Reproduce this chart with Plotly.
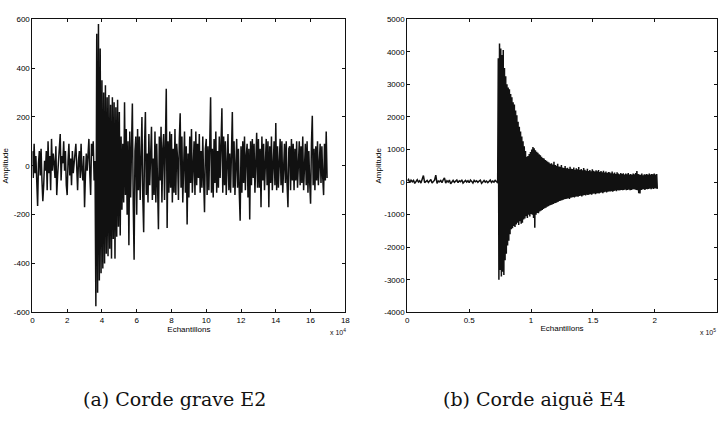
import numpy as np
import plotly.graph_objects as go

# ---------------- data ----------------
# (a) Corde grave E2 : amplitude read every 0.05 x 10^4 samples
grave_step = 0.05
grave_amp = [
    60, -50, 90, -30, 40, -120, -165, 10, 60, -40, 70, -60, -145, -80, 20, -20, 60, -100, 100, -30,
    40, -100, 110, -20, 50, 10, -50, 80, -120, -40, 30, 60, 130, -60, 40, 10, 100, -20, 60, -80,
    -120, 20, 90, -40, 30, -80, 60, -30, 0, 50, 90, -40, -100, 20, 60, -50, 90, -20, -60, 40,
    -170, -40, 50, -20, 60, 110, -30, -120, 90, 40, 100, -60, 20, -575, 540, -520, 580, -470, 480, -440,
    350, -420, 300, -400, 330, -360, 280, -370, 290, -340, 250, -380, 280, -300, 260, -380, 240, -290, 270, -250,
    220, -285, 120, -180, 90, -150, 260, -120, 150, -200, 100, -325, 140, -130, 80, 255, -160, -385, 60, 120,
    -200, 150, -100, 120, -140, 60, 200, -130, -272, 80, 220, -120, 50, -150, 130, -80, 110, 160, -140, 30,
    -120, 140, -150, 90, -80, -260, 120, -60, 160, -150, 70, 130, -140, 40, 315, -255, 100, -110, 140, -90,
    130, -150, 70, -110, 150, -120, 90, 30, -140, 110, 215, -90, 120, -150, 60, 140, -110, 80, -240, 50,
    -130, 120, -70, 150, -110, 50, 100, -120, 140, -80, 90, -50, 130, -110, 60, -90, 120, -60, -190, 70,
    110, -120, 80, -100, 150, 280, -110, 70, -130, 110, -70, 140, -110, 60, -90, 120, -50, 90, 235, -110,
    120, -80, 100, -120, 70, 130, -100, 50, -110, 150, 220, -90, 100, -120, 60, 110, -90, 70, -110, -225,
    80, -110, 100, -70, 120, -100, 40, 90, -130, 70, -220, 100, -80, 110, -50, 90, -110, 60, 135, -90,
    110, -90, 70, -170, 120, -60, 90, -100, 50, 110, -80, 100, -170, 80, -70, 120, -100, 60, 100, -80,
    175, -100, 80, -90, 60, 110, -80, 100, -110, 50, 90, -70, 100, -80, -170, 70, 80, -100, 110, -60,
    90, -100, 70, -60, 100, -90, 50, 100, -80, 80, -70, 120, -100, 40, 90, -80, 100, -110, 60, -70,
    -155, 90, 205, -80, 70, -100, 80, -60, 100, -80, 60, 90, -70, 80, -50, -120, 90, -60, 140, -50,
]

# (b) Corde aiguë E4 : x in units of 10^5 samples
aigue_pre_step = 0.01
aigue_pre = [
    40, 80, -20, 60, 10, 50, -40, 30, 70, 0, 40, -30, 60, 200, -20, 30, 50, -10, 40, 80,
    -30, 20, 60, 210, -40, 30, 10, 50, -20, 70, 130, -30, 40, 0, 60, -50, 20, 50, -10, 30,
    60, -20, 40, 10, 70, -30, 30, 50, 0, 40, -20, 60, 20, -30, 50, 10, 40, -10, 30, 60,
    -40, 20, 50, 0, 30, -20, 40, 60, -10, 30, 0, 50, 20, -30,
]
aigue_onset = 0.735
aigue_peak_step = 0.01
aigue_upper = [
    3800, 4250, 4100, 3900, 4050, 3500, 3250, 3000, 2900, 2850,
    2700, 2600, 2450, 2380, 2200, 2050, 1850, 1700, 1550, 1400,
    1250, 1100, 950, 780, 800, 860, 920, 1000, 1080, 1040,
    980, 930, 900, 850, 820, 780, 740, 720, 680, 650,
    620, 600, 560, 580, 540, 620, 520, 500, 560, 480,
    470, 520, 450, 430, 490, 420, 440, 400, 470, 410,
    400, 450, 380, 420, 390, 460, 370, 400, 360, 430,
    380, 350, 410, 340, 370, 330, 390, 350, 320, 360,
    330, 370, 310, 340, 300, 350, 290, 320, 280, 310,
    300, 270, 320, 260, 290, 250, 300, 260, 240, 280,
    250, 270, 230, 260, 240, 280, 230, 250, 220, 260,
    240, 280, 340, 250, 230, 220, 260, 210, 240, 230,
    250, 220, 260, 230, 250, 240, 260, 230, 250,
]
aigue_lower = [
    -3000, -2700, -2900, -2750, -2850, -2400, -2200, -1950, -1800, -1600,
    -1450, -1420, -1350, -1380, -1300, -1250, -1320, -1200, -1280, -1250,
    -1150, -1120, -1050, -1100, -1000, -1060, -980, -1000, -1100, -1400,
    -1000, -950, -960, -900, -880, -860, -830, -800, -790, -760,
    -740, -720, -700, -690, -670, -650, -640, -620, -600, -580,
    -570, -560, -540, -530, -520, -510, -500, -520, -480, -470,
    -460, -470, -450, -440, -450, -430, -420, -440, -410, -400,
    -410, -390, -400, -380, -370, -390, -360, -350, -370, -350,
    -340, -350, -330, -320, -340, -310, -300, -320, -300, -290,
    -290, -280, -300, -270, -260, -280, -250, -260, -250, -240,
    -250, -240, -230, -250, -240, -230, -250, -240, -230, -220,
    -230, -240, -250, -340, -350, -240, -230, -220, -240, -210,
    -220, -210, -200, -220, -200, -210, -190, -200, -210,
]

grave_yticks = [600, 400, 200, 0, -200, -400, -600]
grave_xticks = [0, 2, 4, 6, 8, 10, 12, 14, 16, 18]
aigue_yticks = [5000, 4000, 3000, 2000, 1000, 0, -1000, -2000, -3000, -4000]
aigue_xticks = [0, 0.5, 1, 1.5, 2, 2.5]

# ---------------- build series ----------------
gx = np.arange(len(grave_amp)) * grave_step
ax_pre = np.arange(len(aigue_pre)) * aigue_pre_step
ax_post, ay_post = [], []
for k, (u, l) in enumerate(zip(aigue_upper, aigue_lower)):
    x0 = aigue_onset + k * aigue_peak_step
    ax_post += [x0, x0 + aigue_peak_step / 2]
    ay_post += [u, l]
ax_all = list(ax_pre) + ax_post
ay_all = list(aigue_pre) + ay_post

W, H = 722, 428
def px(x): return x / W
def py(y): return 1 - y / H

LINE = dict(color="#111111", width=1.5)
fig = go.Figure()
fig.add_trace(go.Scatter(x=gx, y=grave_amp, mode="lines", line=LINE,
                         xaxis="x", yaxis="y", showlegend=False, hoverinfo="skip"))
fig.add_trace(go.Scatter(x=ax_all, y=ay_all, mode="lines", line=LINE,
                         xaxis="x2", yaxis="y2", showlegend=False, hoverinfo="skip"))

tickfont = dict(family="Liberation Sans, Arial, sans-serif", size=8, color="#000")
common = dict(showline=True, linecolor="#111", linewidth=1, mirror="ticks",
              ticks="inside", ticklen=3, tickcolor="#111", showgrid=False,
              zeroline=False, tickfont=tickfont)

def fmt(v):
    return "%g" % v

ydom = [py(315), py(15.5)]
fig.update_layout(
    width=W, height=H, margin=dict(l=0, r=0, t=0, b=0),
    paper_bgcolor="white", plot_bgcolor="white",
    xaxis=dict(domain=[px(30.7), px(346.7)], range=[0, 18], anchor="y",
               tickvals=grave_xticks, ticktext=[fmt(v) for v in grave_xticks],
               title=dict(text="Echantillons", font=tickfont, standoff=1), **common),
    yaxis=dict(domain=ydom, range=[-600, 600], anchor="x",
               tickvals=grave_yticks, ticktext=[fmt(v) for v in grave_yticks],
               title=dict(text="Amplitude", font=tickfont, standoff=3), **common),
    xaxis2=dict(domain=[px(409.3), px(721.7)], range=[0, 2.5], anchor="y2",
                tickvals=aigue_xticks, ticktext=[fmt(v) for v in aigue_xticks],
                title=dict(text="Echantillons", font=tickfont, standoff=1), **common),
    yaxis2=dict(domain=ydom, range=[-4000, 5000], anchor="x2",
                tickvals=aigue_yticks, ticktext=[fmt(v) for v in aigue_yticks],
                title=dict(text="Amplitude", font=tickfont, standoff=1), **common),
)

cap_font = dict(family="DejaVu Serif, Liberation Serif, serif", size=19, color="#111")
fig.add_annotation(text="(a) Corde grave E2", x=px(174), y=py(403), xref="paper", yref="paper",
                   showarrow=False, font=cap_font, xanchor="center", yanchor="middle")
fig.add_annotation(text="(b) Corde aiguë E4", x=px(538), y=py(403), xref="paper", yref="paper",
                   showarrow=False, font=cap_font, xanchor="center", yanchor="middle")
small = dict(family="Liberation Sans, Arial", size=7, color="#111")
fig.add_annotation(text="x 10<sup>4</sup>", x=px(339), y=py(335), xref="paper", yref="paper",
                   showarrow=False, font=small, xanchor="center", yanchor="middle")
fig.add_annotation(text="x 10<sup>5</sup>", x=px(713), y=py(335), xref="paper", yref="paper",
                   showarrow=False, font=small, xanchor="center", yanchor="middle")

fig.write_html("out.html")
